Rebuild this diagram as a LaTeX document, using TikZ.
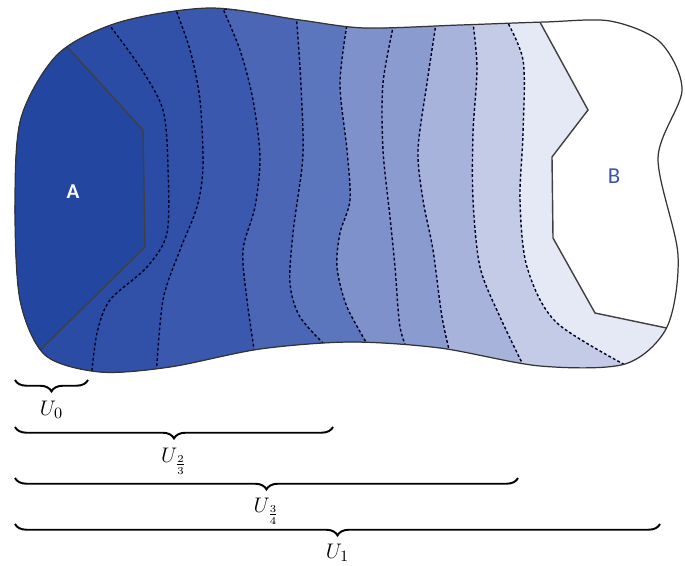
\documentclass[tikz,border=0pt]{standalone}
\usepackage{fontspec}
\setsansfont{Carlito}
\usetikzlibrary{decorations.pathreplacing}

\definecolor{regA}{HTML}{2347A0}
\definecolor{bandone}{HTML}{2A4CA5}
\definecolor{bandtwo}{HTML}{3151A9}
\definecolor{bandthree}{HTML}{3A59AE}
\definecolor{bandfour}{HTML}{4A66B5}
\definecolor{bandfive}{HTML}{5C76BD}
\definecolor{bandsix}{HTML}{7F91CA}
\definecolor{bandseven}{HTML}{8A9BD0}
\definecolor{bandeight}{HTML}{A8B3DB}
\definecolor{bandnine}{HTML}{C4CBE7}
\definecolor{bandten}{HTML}{E5E8F5}
\definecolor{labB}{HTML}{3A56B0}

\begin{document}
\begin{tikzpicture}[x=0.02cm, y=-0.02cm,
    level/.style={dash pattern=on 1.6pt off 1.3pt, line width=0.8pt, draw=black!85!blue},
    rim/.style={line width=0.7pt, draw=black!80},
    cut/.style={line width=0.8pt, draw=black!75},
    ubrace/.style={decorate, decoration={brace, mirror, amplitude=6.5pt}, line width=1.1pt},
    ulab/.style={anchor=north, font=\fontsize{12.5}{14}\selectfont}]
    \useasboundingbox (0,0) rectangle (685,565);

    % ---- outline of the domain ----
    \path[save path=\blob] plot[smooth cycle] coordinates {
        (15,205) (21,118) (58,54) (120,22) (210,8) (300,20) (365,28)
        (460,25) (545,22) (610,21) (660,42) (682,90) (658,158) (678,255)
        (667,327) (625,364) (540,366) (440,348) (350,342) (260,349)
        (170,367) (100,372) (45,355) (20,300)};

    \begin{scope}
        \clip[use path=\blob];
        \fill[bandten] (0,0) rectangle (700,400);

        % ---- level sets, right to left ----
        \filldraw[level, fill=bandnine] (0,0) -- plot[smooth] coordinates {
            (503,14) (523,60) (523,133) (520,200) (527,267) (557,323) (640,373)} -- (0,400) -- cycle;
        \filldraw[level, fill=bandeight] (0,0) -- plot[smooth] coordinates {
            (472,15) (477,67) (473,133) (473,200) (480,267) (500,317) (528,375)} -- (0,400) -- cycle;
        \filldraw[level, fill=bandseven] (0,0) -- plot[smooth] coordinates {
            (437,17) (427,83) (418,150) (423,200) (433,250) (442,317) (452,362)} -- (0,400) -- cycle;
        \filldraw[level, fill=bandsix] (0,0) -- plot[smooth] coordinates {
            (395,18) (383,83) (383,150) (390,217) (395,267) (400,327) (410,357)} -- (0,400) -- cycle;
        \filldraw[level, fill=bandfive] (0,0) -- plot[smooth] coordinates {
            (348,18) (340,83) (347,150) (350,200) (340,233) (337,267) (347,307) (372,352)} -- (0,400) -- cycle;
        \filldraw[level, fill=bandfour] (0,0) -- plot[smooth] coordinates {
            (296,12) (300,67) (303,133) (302,167) (293,233) (290,283) (300,317) (330,350)} -- (0,400) -- cycle;
        \filldraw[level, fill=bandthree] (0,0) -- plot[smooth] coordinates {
            (220,2) (240,50) (253,100) (260,157) (255,207) (243,250) (247,300) (256,362)} -- (0,400) -- cycle;
        \filldraw[level, fill=bandtwo] (0,0) -- plot[smooth] coordinates {
            (173,2) (190,50) (200,100) (203,167) (197,207) (180,250) (163,300) (156,378)} -- (0,400) -- cycle;
        \filldraw[level, fill=bandone] (0,0) -- plot[smooth] coordinates {
            (104,18) (140,67) (163,110) (168,167) (167,233) (147,267) (110,300) (97,333) (91,380)} -- (0,400) -- cycle;

        % ---- set A ----
        \filldraw[cut, fill=regA] (0,0) -- (40,17) -- (143,130) -- (145,247) -- (20,370) -- (0,400) -- cycle;

        % ---- set B ----
        \filldraw[cut, fill=white] (700,0) -- (535,13) -- (588,110) -- (552,157)
            -- (553,238) -- (595,313) -- (700,335) -- cycle;
    \end{scope}
    \draw[rim, use path=\blob];

    \node[font=\sffamily\bfseries\fontsize{12}{14}\selectfont, text=white] (labA) at (73,192) {A};
    \node[font=\sffamily\fontsize{13}{15}\selectfont, text=labB] (labB) at (614,176) {B};

    % ---- nested sets U ----
    \draw[ubrace] (15,380) -- (88,380);
    \node[ulab] (uzero) at (51.5,395) {$U_0$};
    \draw[ubrace] (15,427) -- (333,427);
    \node[ulab] (utwothirds) at (174,442) {$U_{\frac{2}{3}}$};
    \draw[ubrace] (15,478) -- (518,478);
    \node[ulab] (uthreequarters) at (266.5,492) {$U_{\frac{3}{4}}$};
    \draw[ubrace] (15,524) -- (660,524);
    \node[ulab] (uone) at (337.5,538) {$U_1$};
\end{tikzpicture}
\end{document}
